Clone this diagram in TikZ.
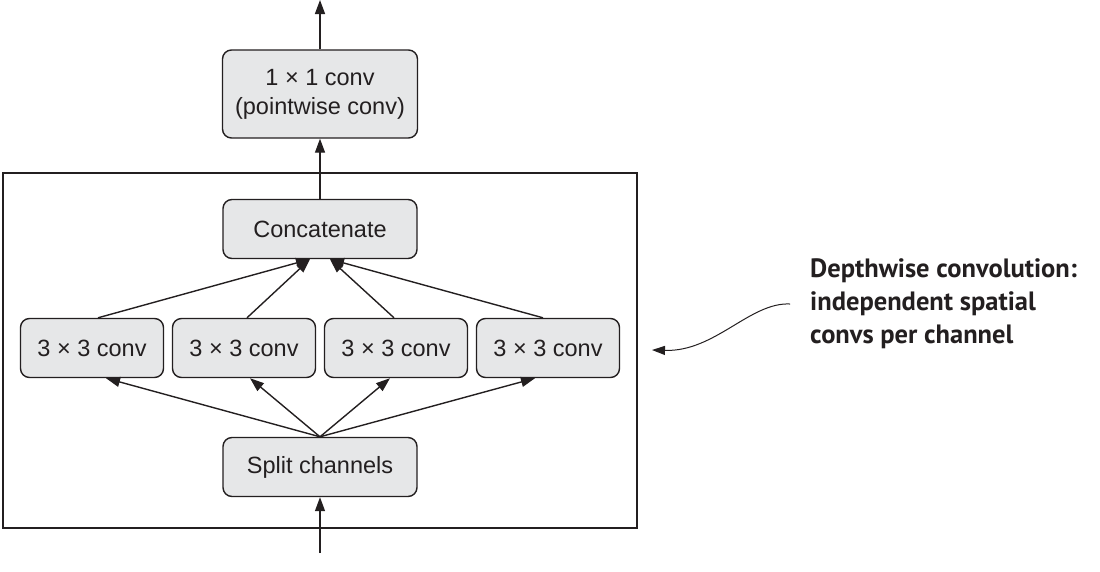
\documentclass[tikz,border=0pt]{standalone}
\usepackage{fontspec}
\setmainfont{Liberation Sans}
\newfontfamily\annfont{PT Sans}
\usetikzlibrary{arrows.meta,calc}
\definecolor{boxfill}{HTML}{E6E7E8}
\definecolor{ink}{HTML}{231F20}
\tikzset{
  blk/.style={draw=ink, line width=1.4pt, fill=boxfill, rounded corners=9pt,
    align=center, inner sep=0pt, font=\fontsize{23.5}{29}\selectfont, text=ink},
  flow/.style={draw=ink, line width=1.4pt, -{Triangle[length=14pt,width=10pt]}},
}
\begin{document}
\begin{tikzpicture}[x=1pt,y=-1pt]
\useasboundingbox (0,0) rectangle (1100,571);
% outer frame
\draw[ink, line width=1.3pt] (3,173) rectangle (637,528);
% nodes
\node[blk, minimum width=195pt, minimum height=88pt] (pw) at (320,94) {1 × 1 conv\\(pointwise conv)};
\node[blk, minimum width=194pt, minimum height=59pt] (cat) at (320,229) {Concatenate};
\node[blk, minimum width=143pt, minimum height=59pt] (c1) at (92,348) {3 × 3 conv};
\node[blk, minimum width=143pt, minimum height=59pt] (c2) at (244,348) {3 × 3 conv};
\node[blk, minimum width=143pt, minimum height=59pt] (c3) at (396,348) {3 × 3 conv};
\node[blk, minimum width=143pt, minimum height=59pt] (c4) at (548,348) {3 × 3 conv};
\node[blk, minimum width=194pt, minimum height=59pt] (split) at (320,467) {Split channels};
% helper coordinates
\coordinate (top) at (320,0);
\coordinate (bot) at (320,553);
\coordinate (catL) at ($(cat.south)+(-10,0)$);
\coordinate (catR) at ($(cat.south)+(10,0)$);
\coordinate (sp) at (split.north);
% connectors
\draw[flow] (pw.north) -- (top);
\draw[flow] (cat.north) -- (pw.south);
\draw[flow] (bot) -- (split.south);
\draw[flow] (c1.north) ++(6,0) -- (catL);
\draw[flow] (c2.north) ++(3,0) -- (catL);
\draw[flow] (c3.north) ++(-2,0) -- (catR);
\draw[flow] (c4.north) ++(-5,0) -- (catR);
\draw[flow] (sp) -- ($(c1.south)+(14,0)$);
\draw[flow] (sp) -- ($(c2.south)+(6,0)$);
\draw[flow] (sp) -- ($(c3.south)+(-6,0)$);
\draw[flow] (sp) -- ($(c4.south)+(-13,0)$);
% annotation
\node[anchor=north west, inner sep=0pt, align=left, text=ink,
  font=\annfont\bfseries\fontsize{26.5}{33}\selectfont] (ann) at (810,258)
  {Depthwise convolution:\\independent spatial\\convs per channel};
\coordinate (annstart) at (790,304);
\coordinate (annend) at (652,350);
\draw[ink, line width=1pt, -{Triangle[length=13pt,width=9pt]}] (annstart) .. controls (750,302) and (715,352) .. (annend);
\end{tikzpicture}
\end{document}
